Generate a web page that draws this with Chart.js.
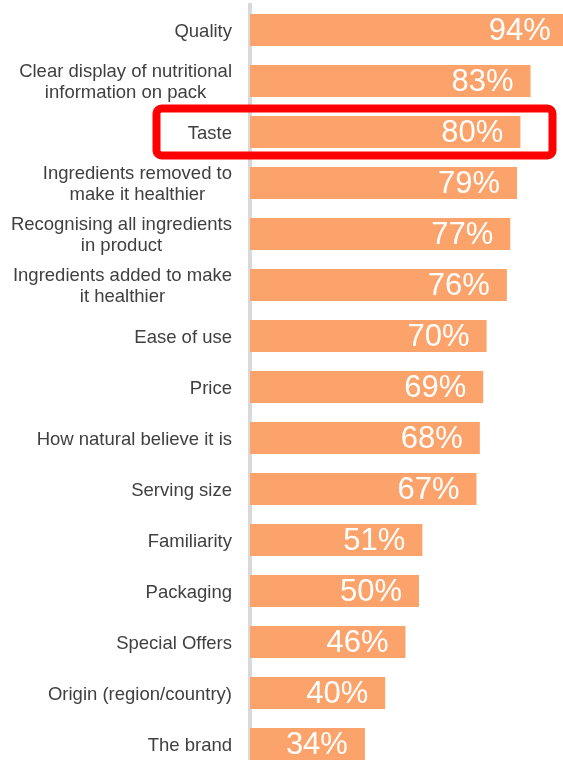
<!DOCTYPE html>
<html lang="en">
<head>
<meta charset="UTF-8">
<title>Purchase drivers</title>
<script src="https://cdn.jsdelivr.net/npm/chart.js@4.4.0/dist/chart.umd.min.js"></script>
<style>
    html, body { margin: 0; padding: 0; background: #fff; overflow: hidden; }
    #wrap { width: 563px; height: 760px; overflow: hidden; }
    canvas { display: block; }
</style>
</head>
<body>
<div id="wrap"><canvas id="driverChart" width="563" height="770"></canvas></div>
<script>
// categories (two-line labels are arrays)
const categories = [
    'Quality',
    ['Clear display of nutritional', 'information on pack'],
    'Taste',
    ['Ingredients removed to', 'make it healthier'],
    ['Recognising all ingredients', 'in product'],
    ['Ingredients added to make', 'it healthier'],
    'Ease of use',
    'Price',
    'How natural believe it is',
    'Serving size',
    'Familiarity',
    'Packaging',
    'Special Offers',
    'Origin (region/country)',
    'The brand'
];
const values = [94, 83, 80, 79, 77, 76, 70, 69, 68, 67, 51, 50, 46, 40, 34];
const highlighted = 'Taste';

const FONT = '"Liberation Sans", Arial, sans-serif';

// white value labels inside the bar ends
const valueLabels = {
    id: 'valueLabels',
    afterDatasetsDraw(chart) {
        const ctx = chart.ctx;
        const meta = chart.getDatasetMeta(0);
        ctx.save();
        ctx.font = '31px ' + FONT;
        ctx.fillStyle = '#ffffff';
        ctx.textAlign = 'right';
        ctx.textBaseline = 'middle';
        meta.data.forEach((bar, i) => {
            ctx.fillText(values[i] + '%', bar.x - 17, bar.y + 1);
        });
        ctx.restore();
    }
};

// category labels: block right aligned, lines centred on each other
const categoryLabels = {
    id: 'categoryLabels',
    afterDraw(chart) {
        const ctx = chart.ctx;
        const yScale = chart.scales.y;
        const right = chart.chartArea.left - 18;
        ctx.save();
        ctx.font = '18.5px ' + FONT;
        ctx.fillStyle = '#404040';
        ctx.textAlign = 'center';
        ctx.textBaseline = 'middle';
        categories.forEach((label, i) => {
            const lines = Array.isArray(label) ? label : [label];
            const widest = Math.max(...lines.map(l => ctx.measureText(l).width));
            const cx = right - widest / 2;
            const cy = yScale.getPixelForTick(i) + 1.5;
            lines.forEach((line, j) => {
                ctx.fillText(line, cx, cy + (j - (lines.length - 1) / 2) * 21);
            });
        });
        ctx.restore();
    }
};

// red box round the highlighted row
const highlightBox = {
    id: 'highlightBox',
    afterDraw(chart) {
        const idx = categories.indexOf(highlighted);
        if (idx < 0) return;
        const ctx = chart.ctx;
        const yScale = chart.scales.y;
        const area = chart.chartArea;
        const pitch = yScale.getPixelForTick(1) - yScale.getPixelForTick(0);
        const cy = yScale.getPixelForTick(idx);
        const left = area.left - 93.5;
        const right = area.right - 10.5;
        ctx.save();
        ctx.strokeStyle = '#ff0000';
        ctx.lineWidth = 8;
        ctx.beginPath();
        ctx.roundRect(left, cy - pitch / 2 + 2, right - left, pitch - 4, 5);
        ctx.stroke();
        ctx.restore();
    }
};

new Chart(document.getElementById('driverChart'), {
    type: 'bar',
    data: {
        labels: categories,
        datasets: [{
            data: values,
            backgroundColor: '#fba36b',
            barPercentage: 0.63,
            categoryPercentage: 1
        }]
    },
    options: {
        indexAxis: 'y',
        responsive: false,
        animation: false,
        layout: {
            padding: { top: 4.5, bottom: 0.5, left: 0, right: 0 }
        },
        plugins: {
            legend: { display: false },
            tooltip: { enabled: false }
        },
        scales: {
            x: {
                display: false,
                min: 0,
                max: 92.6
            },
            y: {
                grid: { display: false },
                border: { color: '#d9d9d9', width: 4 },
                ticks: { display: false },
                afterFit(scale) {
                    scale.width = 250;
                }
            }
        }
    },
    plugins: [valueLabels, categoryLabels, highlightBox]
});
</script>
</body>
</html>
